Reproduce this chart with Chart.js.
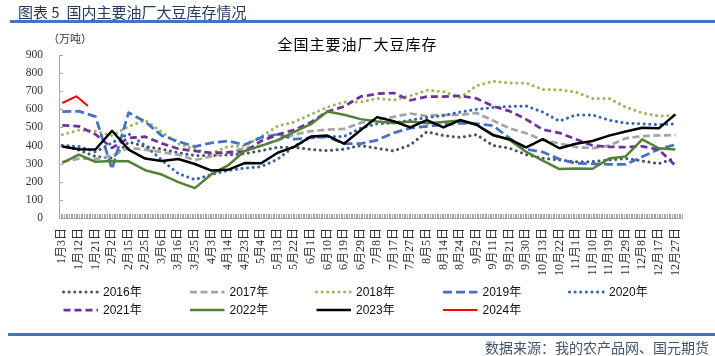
<!DOCTYPE html>
<html><head><meta charset="utf-8">
<script src="https://cdn.jsdelivr.net/npm/chart.js"></script>
<style>
html,body{margin:0;padding:0;background:#fff;}
#wrap{position:relative;width:715px;height:356px;overflow:hidden;font-family:'Noto Sans CJK SC',sans-serif;}
#c{position:absolute;left:0;top:0;}
.hdr{position:absolute;left:18px;top:2px;font-size:15px;line-height:20px;color:#263A5E;white-space:nowrap;}
.rule{position:absolute;left:10px;right:0;height:3px;background:#4472C4;}
.title{position:absolute;left:0;width:715px;top:34px;text-align:center;font-size:15px;line-height:20px;letter-spacing:1px;color:#000;}
.unit{position:absolute;left:48px;top:31px;font-size:11px;line-height:14px;color:#333;}
.src{position:absolute;right:6px;top:338px;font-size:14px;line-height:18px;color:#44546A;white-space:nowrap;}
</style></head><body>
<div id="wrap">
<canvas id="c" width="715" height="356"></canvas>
<div class="hdr">图表 5&nbsp;&nbsp;国内主要油厂大豆库存情况</div>
<div class="rule" style="top:20px"></div>
<div class="title">全国主要油厂大豆库存</div>
<div class="unit">（万吨）</div>
<div class="rule" style="top:333px;left:8px"></div>
<div class="src">数据来源：我的农产品网、国元期货</div>
</div>
<script>
// ---- data ----
const categories = ['1月3日','1月12日','1月21日','2月2日','2月15日','2月25日','3月6日','3月16日','3月25日','4月3日','4月14日','4月23日','5月4日','5月13日','5月22日','6月1日','6月10日','6月19日','6月29日','7月8日','7月17日','7月27日','8月5日','8月14日','8月24日','9月2日','9月11日','9月21日','9月30日','10月13日','10月22日','11月1日','11月10日','11月19日','11月29日','12月8日','12月17日','12月27日'];
const yTicks = [0,100,200,300,400,500,600,700,800,900];
const seriesNames = ['2016年','2017年','2018年','2019年','2020年','2021年','2022年','2023年','2024年'];
const v2016 = [400,375,340,330,420,395,380,360,345,345,348,355,372,390,390,378,372,380,400,385,370,403,476,455,445,460,400,385,350,330,320,311,311,320,328,315,300,330];
const v2017 = [310,328,325,345,387,377,364,350,320,340,362,385,400,430,460,480,488,492,525,545,558,577,563,570,570,580,538,495,468,430,412,392,385,400,440,452,456,458];
const v2018 = [460,485,480,455,505,540,475,410,380,355,395,397,450,508,530,572,612,640,640,660,651,675,705,698,665,730,755,745,745,710,708,695,660,660,612,580,563,565];
const v2019 = [587,590,560,270,582,532,455,423,394,415,425,405,445,462,435,443,448,410,410,430,470,496,506,515,523,521,510,440,380,364,325,302,299,296,296,338,380,405];
const v2020 = [400,395,365,415,465,400,320,245,212,240,262,275,283,325,395,445,450,450,495,520,525,540,555,565,585,600,610,616,618,585,535,569,569,540,524,520,515,520];
const v2021 = [512,506,462,387,442,449,412,382,370,360,362,366,425,460,487,528,588,615,670,686,690,650,670,670,675,660,617,590,545,488,470,435,400,393,391,396,378,290];
const v2022 = [305,350,310,315,313,264,240,198,165,242,290,370,398,430,475,518,588,570,546,533,525,533,523,530,538,515,460,431,365,317,270,273,272,328,340,434,385,378];
const v2023 = [395,380,378,482,378,328,315,326,298,262,266,303,302,360,393,450,455,410,485,557,534,500,540,500,541,515,457,434,390,435,385,410,425,455,478,498,495,572];
const v2024 = [635,672,618];
const pos2024 = [0,0.85,1.55];

// ---- styles ----
const styleList = [
  {color:'#44546A', dash:[0.1,5.5], cap:'round', width:3},
  {color:'#A5A5A5', dash:[7,3.5], cap:'butt', width:2.75},
  {color:'#9BBB59', dash:[0.1,5.5], cap:'round', width:3},
  {color:'#4472C4', dash:[9,4], cap:'butt', width:2.75},
  {color:'#3464B4', dash:[0.1,5.5], cap:'round', width:3},
  {color:'#7030A0', dash:[7,4], cap:'butt', width:2.75},
  {color:'#548235', dash:[], cap:'butt', width:2.5},
  {color:'#000000', dash:[], cap:'butt', width:2.5},
  {color:'#FF0000', dash:[], cap:'butt', width:2}
];
const valueSets = [v2016,v2017,v2018,v2019,v2020,v2021,v2022,v2023];
const toPts = (vals, pos) => vals.map((v,i)=>({x: pos ? pos[i] : i, y: v}));
const datasets = seriesNames.map((name, k) => {
  const st = styleList[k];
  const data = k < 8 ? toPts(valueSets[k]) : toPts(v2024, pos2024);
  return {label:name, data, borderColor:st.color, backgroundColor:st.color, borderWidth:st.width,
    borderDash:st.dash, borderCapStyle:st.cap, borderJoinStyle:'round', pointRadius:0, tension:0, fill:false,
    order: seriesNames.length - k};
});

const legendPlugin = {
  id:'gridLegend',
  afterDraw(chart){
    const ctx = chart.ctx;
    chart.data.datasets.forEach((ds,i)=>{
      const col = i < 5 ? i : i-5, row = i < 5 ? 0 : 1;
      const x0 = 62 + col*126.5, y = 292 + row*18;
      ctx.save();
      ctx.strokeStyle = ds.borderColor; ctx.lineWidth = ds.borderWidth;
      ctx.lineCap = ds.borderCapStyle; ctx.setLineDash(ds.borderDash);
      ctx.beginPath(); ctx.moveTo(x0+1.5, y); ctx.lineTo(x0+36, y); ctx.stroke();
      ctx.setLineDash([]);
      ctx.fillStyle = '#111';
      ctx.font = "12px 'Liberation Sans Narrow','Liberation Sans','Noto Sans CJK SC',sans-serif";
      ctx.textBaseline = 'middle'; ctx.textAlign = 'left';
      ctx.fillText(ds.label, x0+41, y+0.5);
      ctx.restore();
    });
  }
};
const tickPlugin = {
  id:'inTicks',
  beforeDatasetsDraw(chart){
    const {ctx, chartArea:a, scales:{x,y}} = chart;
    ctx.save(); ctx.strokeStyle = '#A6A6A6'; ctx.lineWidth = 1;
    ctx.beginPath();
    for (let v = x.min; v <= x.max + 1e-9; v += 0.1) {
      const px = Math.round(x.getPixelForValue(v)) + 0.5;
      ctx.moveTo(px, a.bottom - 4); ctx.lineTo(px, a.bottom);
    }
    y.ticks.forEach(t => {
      const py = Math.round(y.getPixelForValue(t.value)) + 0.5;
      ctx.moveTo(a.left, py); ctx.lineTo(a.left + 4, py);
    });
    ctx.stroke(); ctx.restore();
  }
};

new Chart(document.getElementById('c'), {
  type:'line',
  data:{datasets},
  plugins:[tickPlugin, legendPlugin],
  options:{
    responsive:false, animation:false, devicePixelRatio:1,
    layout:{padding:{top:55, right:33, bottom:0, left:0}},
    plugins:{legend:{display:false}, tooltip:{enabled:false}, title:{display:false}},
    scales:{
      x:{type:'linear', min:-0.2, max:37.4,
        afterBuildTicks:s=>{ s.ticks = categories.map((_,i)=>({value:i})); },
        afterFit:s=>{ s.height = 138; },
        grid:{display:false, drawTicks:false},
        border:{display:true, color:'#A6A6A6', width:1},
        ticks:{autoSkip:false, minRotation:90, maxRotation:90, padding:10, color:'#333',
          font:{size:12, family:"'Liberation Serif','Noto Sans CJK SC',serif"},
          callback:(v,i)=>categories[i]}
      },
      y:{min:0, max:900,
        afterBuildTicks:s=>{ s.ticks = yTicks.map(v=>({value:v})); },
        afterFit:s=>{ s.width = 59; },
        grid:{display:false, drawTicks:false},
        border:{display:true, color:'#A6A6A6', width:1},
        ticks:{padding:16, color:'#333', font:{size:11.5, family:"'Liberation Serif',serif"}}
      }
    }
  }
});
</script>
</body></html>
